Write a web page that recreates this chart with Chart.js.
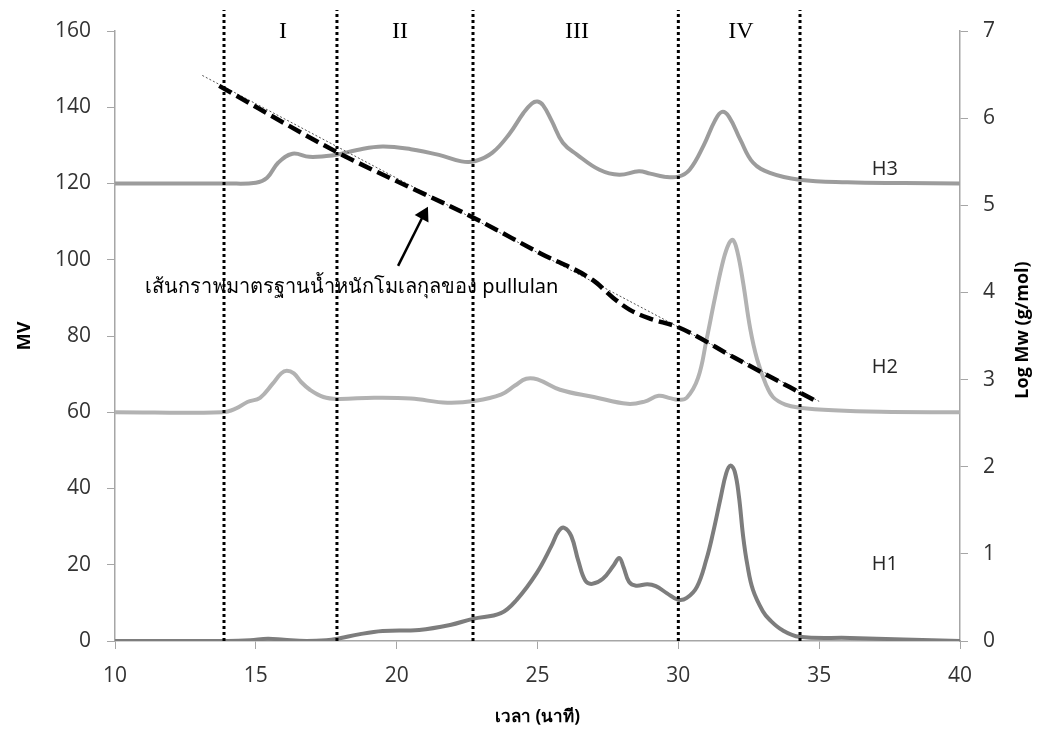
<!DOCTYPE html>
<html>
<head>
<meta charset="utf-8">
<script src="https://cdn.jsdelivr.net/npm/chart.js@4/dist/chart.umd.min.js"></script>
<style>
  html, body { margin: 0; padding: 0; background: #fff; }
  #wrap { width: 1042px; height: 735px; }
</style>
</head>
<body>
<div id="wrap"><canvas id="gpc"></canvas></div>
<script>
// elution time (min) and detector response (mV) for each sample
const h3Time = [10, 14, 15.0, 15.4, 15.8, 16.3, 16.9, 17.5, 17.9, 18.6, 19.5, 20.5, 21.5, 22.3, 22.8, 23.4, 24.0, 24.5, 24.8, 25.0, 25.2, 25.5, 25.9, 26.4, 27.2, 27.9, 28.6, 29.0, 29.5, 30.0, 30.4, 30.9, 31.3, 31.55, 31.8, 32.2, 32.65, 33.25, 34.3, 36, 38, 40];
const h3MV   = [120, 120, 120.2, 121.5, 125.5, 127.8, 127.0, 127.2, 127.6, 128.8, 129.7, 129.0, 127.5, 125.8, 125.9, 128.1, 133, 138.5, 141, 141.5, 140.5, 136.5, 130.7, 127.6, 123.6, 122.3, 123.2, 122.6, 121.8, 121.8, 123.6, 130, 136.5, 138.8, 137.5, 131.5, 125.5, 122.8, 121, 120.3, 120.1, 120];

const h2Time = [10, 13.8, 14.3, 14.7, 15.15, 15.6, 15.9, 16.1, 16.35, 16.6, 16.92, 17.4, 17.9, 19.2, 20.5, 21.8, 22.8, 23.7, 24.2, 24.6, 25.0, 25.8, 27.0, 28.2, 28.8, 29.3, 29.7, 30.0, 30.3, 30.7, 31.0, 31.3, 31.6, 31.8, 31.94, 32.1, 32.3, 32.55, 32.8, 33.1, 33.36, 33.8, 34.3, 35.5, 37.2, 40];
const h2MV   = [60, 60, 61, 62.7, 63.8, 67.5, 70.2, 70.9, 70.2, 68, 65.9, 64, 63.5, 63.8, 63.6, 62.5, 63, 64.6, 67, 68.8, 68.6, 65.9, 64, 62.2, 62.8, 64.3, 63.7, 63.3, 63.8, 69, 79, 90, 100, 104.3, 105.2, 102, 94, 82, 73.8, 67.5, 64, 62, 61.2, 60.5, 60.1, 60];

const h1Time = [10, 14, 14.8, 15.43, 16.0, 16.8, 17.5, 17.9, 18.7, 19.5, 20.8, 21.9, 22.7, 23.7, 24.26, 24.97, 25.5, 25.75, 25.95, 26.2, 26.45, 26.7, 26.95, 27.32, 27.7, 27.9, 28.05, 28.25, 28.5, 28.9, 29.2, 29.6, 30.0, 30.3, 30.66, 31.0, 31.23, 31.5, 31.7, 31.85, 32.0, 32.15, 32.3, 32.45, 32.65, 33.0, 33.25, 33.7, 34.3, 36.1, 38, 40];
const h1MV   = [0, 0, 0.2, 0.6, 0.3, 0, 0.2, 0.6, 1.8, 2.6, 2.9, 4.2, 5.8, 7.3, 10.8, 17.8, 25, 28.8, 29.7, 27.5, 21, 15.8, 15.0, 16.3, 19.8, 21.8, 19.5, 15.5, 14.5, 14.9, 14.4, 12.5, 10.8, 11.3, 14.2, 21.5, 28.3, 37.5, 44, 46, 44.5, 38, 27.5, 20, 13.4, 7.8, 5.5, 2.8, 1.1, 0.8, 0.4, 0];

// pullulan standard curve (log Mw, right axis)
const stdTime  = [13.7, 17.88, 22.71, 25.09, 26.97, 27.68, 28.28, 28.99, 30.0, 32.0, 34.96];
const stdLogMw = [6.37, 5.61, 4.86, 4.45, 4.14, 3.94, 3.80, 3.70, 3.60, 3.25, 2.74];
const trendTime  = [13.1, 35];
const trendLogMw = [6.49, 2.75];

// fraction boundaries and labels
const cutTimes = [13.87, 17.88, 22.71, 30.0, 34.32];
const fracNames = ['I', 'II', 'III', 'IV'];
const fracTime  = [15.96, 20.12, 26.4, 32.22];
const sampleNames = ['H3', 'H2', 'H1'];
const sampleLabelY = [123.6, 71.9, 20];
const stdNote = 'เส้นกราฟมาตรฐานน้ำหนักโมเลกุลของ pullulan';
const arrowTime = [20.05, 20.96];
const arrowMV   = [98.4, 111.8];

const pts = (xs, ys) => xs.map((x, i) => ({ x: x, y: ys[i] }));

const datasets = [];
cutTimes.forEach(t => {
  datasets.push({
    data: [{ x: t, y: 0 }, { x: t, y: 165.5 }],
    yAxisID: 'y', borderColor: '#000', borderWidth: 3, borderDash: [3, 3],
    pointRadius: 0, clip: false
  });
});
datasets.push({
  data: pts(arrowTime, arrowMV), yAxisID: 'y',
  borderColor: '#000', backgroundColor: '#000', borderWidth: 2.5,
  pointStyle: 'triangle', pointRadius: [0, 9], rotation: [0, 28], pointBorderWidth: 0
});
datasets.push({
  data: pts(stdTime, stdLogMw), yAxisID: 'y2',
  borderColor: '#000', borderWidth: 4.5, borderDash: [14, 6],
  pointRadius: 0, cubicInterpolationMode: 'monotone'
});
datasets.push({
  data: pts(trendTime, trendLogMw), yAxisID: 'y2',
  borderColor: '#555', borderWidth: 1, borderDash: [2, 2], pointRadius: 0
});
datasets.push({ data: pts(h3Time, h3MV), yAxisID: 'y', borderColor: '#9c9c9c', borderWidth: 4, pointRadius: 0, tension: 0.4 });
datasets.push({ data: pts(h2Time, h2MV), yAxisID: 'y', borderColor: '#b2b2b2', borderWidth: 4, pointRadius: 0, tension: 0.4 });
datasets.push({ data: pts(h1Time, h1MV), yAxisID: 'y', borderColor: '#7d7d7d', borderWidth: 4, pointRadius: 0, tension: 0.4 });

const labelsPlugin = {
  id: 'labels',
  afterDatasetsDraw(chart) {
    const c = chart.ctx, x = chart.scales.x, y = chart.scales.y;
    const area = chart.chartArea;
    c.save();
    c.fillStyle = '#000';
    c.textBaseline = 'middle';
    c.textAlign = 'center';
    c.font = '24px "Liberation Serif", "Times New Roman", serif';
    fracNames.forEach((n, i) => c.fillText(n, x.getPixelForValue(fracTime[i]), y.getPixelForValue(159.8)));
    c.textAlign = 'left';
    c.font = '20px "Open Sans", sans-serif';
    c.fillStyle = '#262626';
    sampleNames.forEach((n, i) => c.fillText(n, x.getPixelForValue(36.87), y.getPixelForValue(sampleLabelY[i])));
    c.fillStyle = '#000';
    c.font = '20px "Noto Sans", "Open Sans", sans-serif';
    c.fillText(stdNote, x.getPixelForValue(11.07), y.getPixelForValue(92.9));
    // right axis title reads bottom-to-top like the left one
    c.translate(1023, (area.top + area.bottom) / 2 - 6);
    c.rotate(-Math.PI / 2);
    c.textAlign = 'center';
    c.font = 'bold 18px "Open Sans", sans-serif';
    c.fillText('Log Mw (g/mol)', 0, 0);
    c.restore();
  }
};

const tickFont = { family: '"Open Sans", sans-serif', size: 21 };
const axisGrey = '#a6a6a6';

new Chart(document.getElementById('gpc'), {
  type: 'line',
  data: { datasets: datasets },
  options: {
    responsive: true,
    maintainAspectRatio: false,
    animation: false,
    layout: { padding: { top: 31, left: 0, right: 0, bottom: 0 } },
    plugins: { legend: { display: false }, tooltip: { enabled: false } },
    scales: {
      x: {
        type: 'linear', min: 10, max: 40,
        ticks: { stepSize: 5, color: '#333', font: tickFont, padding: 14 },
        grid: { drawOnChartArea: false, drawTicks: true, tickLength: 8, color: axisGrey },
        border: { color: axisGrey, width: 1.5 },
        title: { display: true, text: 'เวลา (นาที)', color: '#000', font: { family: '"Noto Sans", sans-serif', size: 17, weight: 'bold' }, padding: { top: 0, bottom: 8 } },
        afterFit(s) { s.height = 94; }
      },
      y: {
        position: 'left', min: 0, max: 160,
        ticks: { stepSize: 20, color: '#333', font: tickFont, padding: 16 },
        grid: { drawOnChartArea: false, drawTicks: true, tickLength: 8, color: axisGrey },
        border: { color: axisGrey, width: 1.5 },
        title: { display: true, text: 'MV', color: '#000', font: { family: '"Open Sans", sans-serif', size: 18, weight: 'bold' }, padding: { top: 14, bottom: 0 } },
        afterFit(s) { s.width = 115; }
      },
      y2: {
        position: 'right', min: 0, max: 7,
        ticks: { stepSize: 1, color: '#333', font: tickFont, padding: 15 },
        grid: { drawOnChartArea: false, drawTicks: true, tickLength: 8, color: axisGrey },
        border: { color: axisGrey, width: 1.5 },
        afterFit(s) { s.width = 82; }
      }
    }
  },
  plugins: [labelsPlugin]
});
</script>
</body>
</html>
